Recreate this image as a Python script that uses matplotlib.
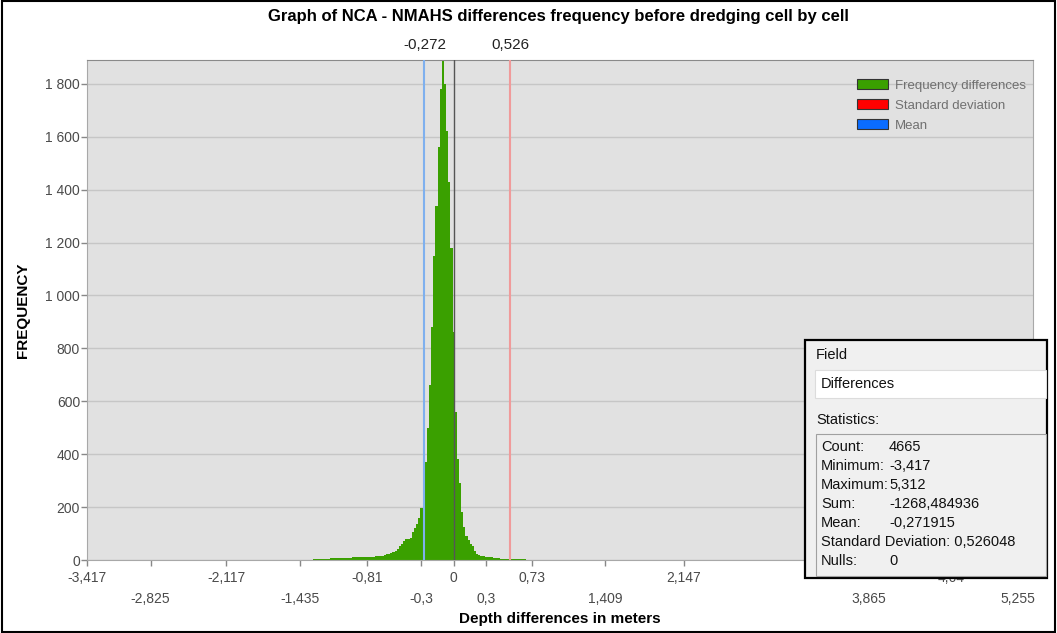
import numpy as np
import matplotlib
matplotlib.use("Agg")
import matplotlib.pyplot as plt
from matplotlib.patches import Rectangle, Patch

plt.rcParams['font.family'] = ['Liberation Sans', 'DejaVu Sans']

# histogram of depth differences (m), bins 0.02 m wide starting at -1.31
bin_start = -1.31
bin_width = 0.02
counts = [
    3, 4, 4, 4, 5, 5, 5, 5, 6, 6,
    6, 7, 7, 7, 8, 8, 9, 9, 10, 10,
    11, 11, 11, 12, 12, 12, 13, 13, 13, 14,
    14, 15, 17, 19, 21, 23, 26, 29, 33, 40,
    52, 62, 72, 80, 78, 85, 105, 120, 135, 160,
    195, 280, 370, 500, 660, 880, 1150, 1340, 1560, 1780,
    1890, 1800, 1620, 1430, 1180, 860, 560, 380, 290, 180,
    125, 90, 75, 62, 52, 35, 24, 20, 17, 15,
    13, 12, 11, 10, 9, 7, 6, 5, 5, 4,
    4, 4, 3, 3, 2, 2, 2, 2, 2, 1,
    1, 1, 1, 1, 1, 1,
]

mean_val = -0.272
std_val = 0.526
x_min, x_max = -3.417, 5.40

xtick_vals = [-3.417, -2.825, -2.117, -1.435, -0.81, -0.3, 0, 0.3, 0.73,
              1.409, 2.147, 3.865, 4.64, 5.255]
xtick_text = ["-3,417", "-2,825", "-2,117", "-1,435", "-0,81", "-0,3", "0",
              "0,3", "0,73", "1,409", "2,147", "3,865", "4,64", "5,255"]
ytick_vals = [0, 200, 400, 600, 800, 1000, 1200, 1400, 1600, 1800]
ytick_text = ["0", "200", "400", "600", "800", "1 000", "1 200", "1 400",
              "1 600", "1 800"]

stat_names = ["Count:", "Minimum:", "Maximum:", "Sum:", "Mean:",
              "Standard Deviation:", "Nulls:"]
stat_values = ["4665", "-3,417", "5,312", "-1268,484936", "-0,271915",
               "0,526048", "0"]

W, H = 1057, 633
fig = plt.figure(figsize=(W / 100, H / 100), dpi=100)
ax = fig.add_axes([87 / W, 1 - 560 / H, (1033 - 87) / W, 500 / H])
ax.set_facecolor("#e1e1e1")

edges = bin_start + bin_width * np.arange(len(counts) + 1)
ax.stairs(counts, edges, fill=True, color="#3aa000", lw=0, zorder=2)

ax.axvline(mean_val, color="#7fb0ee", lw=1.5, zorder=3)
ax.axvline(std_val, color="#f09a9a", lw=1.5, zorder=3)
ax.axvline(0, color="#555555", lw=1, zorder=3)

ax.set_xlim(x_min, x_max)
ax.set_ylim(0, 1890)
ax.set_yticks(ytick_vals)
ax.set_yticklabels(ytick_text)
ax.set_xticks(xtick_vals)
# staggered labels: every second one goes on a lower row
ax.set_xticklabels([t if i % 2 == 0 else "\n" + t for i, t in enumerate(xtick_text)],
                   linespacing=1.6)
ax.tick_params(axis="both", colors="#888888", labelcolor="#4a4a4a",
               labelsize=10, length=4, width=1)
ax.tick_params(axis="x", pad=4)
ax.tick_params(axis="y", pad=1)
ax.grid(axis="y", color="#c6c6c6", lw=1, zorder=1)
ax.set_axisbelow(True)
for s in ax.spines.values():
    s.set_color("#a8a8a8")
ax.spines["top"].set_color("#8a8a8a")

ax.set_xlabel("Depth differences in meters", fontsize=11, fontweight="bold")
ax.xaxis.set_label_coords(0.5, -0.105)
ax.set_ylabel("FREQUENCY", fontsize=11, fontweight="bold")
ax.yaxis.set_label_coords(-0.060, 0.5)

top = ax.secondary_xaxis("top")
top.set_xticks([mean_val, std_val])
top.set_xticklabels(["-0,272", "0,526"])
top.tick_params(length=0, labelsize=11, labelcolor="#222222", pad=6)
top.spines["top"].set_visible(False)

fig.text(0.528, 1 - 16 / H, "Graph of NCA - NMAHS differences frequency before dredging cell by cell",
         ha="center", va="center", fontsize=12, fontweight="bold")

handles = [Patch(facecolor="#3aa000", edgecolor="#333333", lw=0.8),
           Patch(facecolor="#ff0000", edgecolor="#333333", lw=0.8),
           Patch(facecolor="#0a6cff", edgecolor="#333333", lw=0.8)]
leg = ax.legend(handles, ["Frequency differences", "Standard deviation", "Mean"],
                loc="upper right", bbox_to_anchor=(1.005, 0.985), frameon=False,
                fontsize=9.5, labelcolor="#707070", handlelength=2.4,
                handleheight=0.8, handletextpad=0.5, labelspacing=0.55)

# statistics panel drawn over the lower right corner
def px(x, y):
    return x / W, 1 - y / H

def box(x0, y0, x1, y1, **kw):
    r = Rectangle(px(x0, y1), (x1 - x0) / W, (y1 - y0) / H,
                  transform=fig.transFigure, **kw)
    fig.add_artist(r)

box(805, 340, 1047, 578, facecolor="#f0f0f0", edgecolor="black", lw=1.6, zorder=10)
box(815, 370, 1046, 398, facecolor="white", edgecolor="#dcdcdc", lw=0.8, zorder=11)
box(816, 434, 1046, 576, facecolor="#f0f0f0", edgecolor="#a0a0a0", lw=0.8, zorder=11)

fkw = dict(fontsize=10.5, color="#111111", zorder=12, va="center")
fig.text(*px(816, 355), "Field", **fkw)
fig.text(*px(821, 384), "Differences", **fkw)
fig.text(*px(816, 420), "Statistics:", **fkw)
for i, (name, val) in enumerate(zip(stat_names, stat_values)):
    y = 447 + i * 19
    if name.startswith("Standard"):
        fig.text(*px(821, y), name + " " + val, **fkw)
    else:
        fig.text(*px(821, y), name, **fkw)
        fig.text(*px(889, y), val, **fkw)

fig.add_artist(Rectangle((0.002, 0.002), 0.996, 0.996, transform=fig.transFigure,
                         fill=False, edgecolor="black", lw=1.5, zorder=20))

fig.savefig("out.png", dpi=100)
